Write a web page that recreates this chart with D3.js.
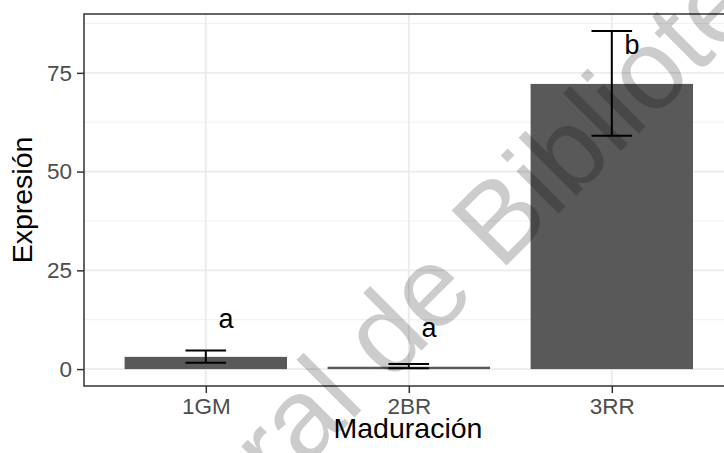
<!DOCTYPE html>
<html>
<head>
<meta charset="utf-8">
<script src="https://cdn.jsdelivr.net/npm/d3@7"></script>
<style>
  body { margin: 0; background: #fff; }
  svg { display: block; font-family: "Liberation Sans", Arial, sans-serif; }
</style>
</head>
<body>
<svg id="chart" width="724" height="453"></svg>
<script>
"use strict";

// data
const categories = ["1GM", "2BR", "3RR"];
const means = [3.1, 0.6, 72.2];
const errLow = [1.6, 0.2, 59.1];
const errHigh = [4.7, 1.3, 85.6];
const letters = ["a", "a", "b"];
const letterY = [12.9, 10.4, 82.2];
const yTicks = [0, 25, 50, 75];
const yMinor = [12.5, 37.5, 62.5, 87.5];

let svg = d3.select("#chart");

// panel (right edge runs off the image like the reference)
let panelLeft = 84, panelRight = 733.6, panelTop = 14, panelBottom = 386;

let x = d3.scalePoint().domain(categories).range([panelLeft, panelRight]).padding(0.6);
let step = x.step();
let y = d3.scaleLinear().domain([-4.28, 89.9]).range([panelBottom, panelTop]);

let g = svg.append("g");

// minor grid
g.selectAll(".minor").data(yMinor).enter().append("line")
    .attr("x1", panelLeft).attr("x2", panelRight)
    .attr("y1", d => y(d)).attr("y2", d => y(d))
    .attr("stroke", "#f0f0f0").attr("stroke-width", 1);

// major grid
g.selectAll(".majorY").data(yTicks).enter().append("line")
    .attr("x1", panelLeft).attr("x2", panelRight)
    .attr("y1", d => y(d)).attr("y2", d => y(d))
    .attr("stroke", "#ebebeb").attr("stroke-width", 1.8);
g.selectAll(".majorX").data(categories).enter().append("line")
    .attr("x1", d => x(d)).attr("x2", d => x(d))
    .attr("y1", panelTop).attr("y2", panelBottom)
    .attr("stroke", "#ebebeb").attr("stroke-width", 1.8);

// bars
let barW = step * 0.8;
g.selectAll(".bar").data(categories).enter().append("rect")
    .attr("x", d => x(d) - barW / 2)
    .attr("width", barW)
    .attr("y", (d, i) => y(means[i]))
    .attr("height", (d, i) => y(0) - y(means[i]))
    .attr("fill", "#595959");

// error bars
let capW = step * 0.2;
let eb = g.selectAll(".err").data(categories).enter().append("g");
eb.append("line")
    .attr("x1", d => x(d)).attr("x2", d => x(d))
    .attr("y1", (d, i) => y(errLow[i])).attr("y2", (d, i) => y(errHigh[i]));
eb.append("line")
    .attr("x1", d => x(d) - capW / 2).attr("x2", d => x(d) + capW / 2)
    .attr("y1", (d, i) => y(errLow[i])).attr("y2", (d, i) => y(errLow[i]));
eb.append("line")
    .attr("x1", d => x(d) - capW / 2).attr("x2", d => x(d) + capW / 2)
    .attr("y1", (d, i) => y(errHigh[i])).attr("y2", (d, i) => y(errHigh[i]));
eb.selectAll("line").attr("stroke", "#000").attr("stroke-width", 2);

// significance letters
g.selectAll(".letter").data(categories).enter().append("text")
    .attr("x", d => x(d) + step * 0.1)
    .attr("y", (d, i) => y(letterY[i]))
    .attr("dy", "0.35em")
    .attr("text-anchor", "middle")
    .attr("font-size", 27)
    .attr("fill", "#000")
    .text((d, i) => letters[i]);

// panel border
g.append("rect")
    .attr("x", panelLeft).attr("y", panelTop)
    .attr("width", panelRight - panelLeft).attr("height", panelBottom - panelTop)
    .attr("fill", "none").attr("stroke", "#333").attr("stroke-width", 1.5);

// axes
let yAxis = g.append("g").attr("transform", `translate(${panelLeft},0)`)
    .call(d3.axisLeft(y).tickValues(yTicks).tickSize(7).tickPadding(5));
let xAxis = g.append("g").attr("transform", `translate(0,${panelBottom})`)
    .call(d3.axisBottom(x).tickSize(7).tickPadding(5));
[xAxis, yAxis].forEach(a => {
    a.select(".domain").remove();
    a.selectAll(".tick line").attr("stroke", "#333").attr("stroke-width", 1.5);
    a.selectAll(".tick text").attr("fill", "#4d4d4d").attr("font-size", 22.5)
        .attr("font-family", "Liberation Sans, Arial, sans-serif");
});

// axis titles
svg.append("text").attr("x", 408).attr("y", 438)
    .attr("text-anchor", "middle").attr("font-size", 28.5).attr("fill", "#000")
    .text("Maduración");
svg.append("text").attr("transform", `translate(32,${(panelTop + panelBottom) / 2}) rotate(-90)`)
    .attr("text-anchor", "middle").attr("font-size", 28.5).attr("fill", "#000")
    .text("Expresión");

// watermark of the scanned source, placed so that the "B" starts near (500,272)
let wm = svg.append("text")
    .attr("transform", "translate(500,272) rotate(-45)")
    .attr("font-size", 113)
    .attr("fill", "#000").attr("fill-opacity", 0.2)
    .text("Dirección General de Bibliotecas");
let prefix = wm.node().getSubStringLength(0, "Dirección General de ".length);
wm.attr("x", -prefix);
</script>
</body>
</html>
